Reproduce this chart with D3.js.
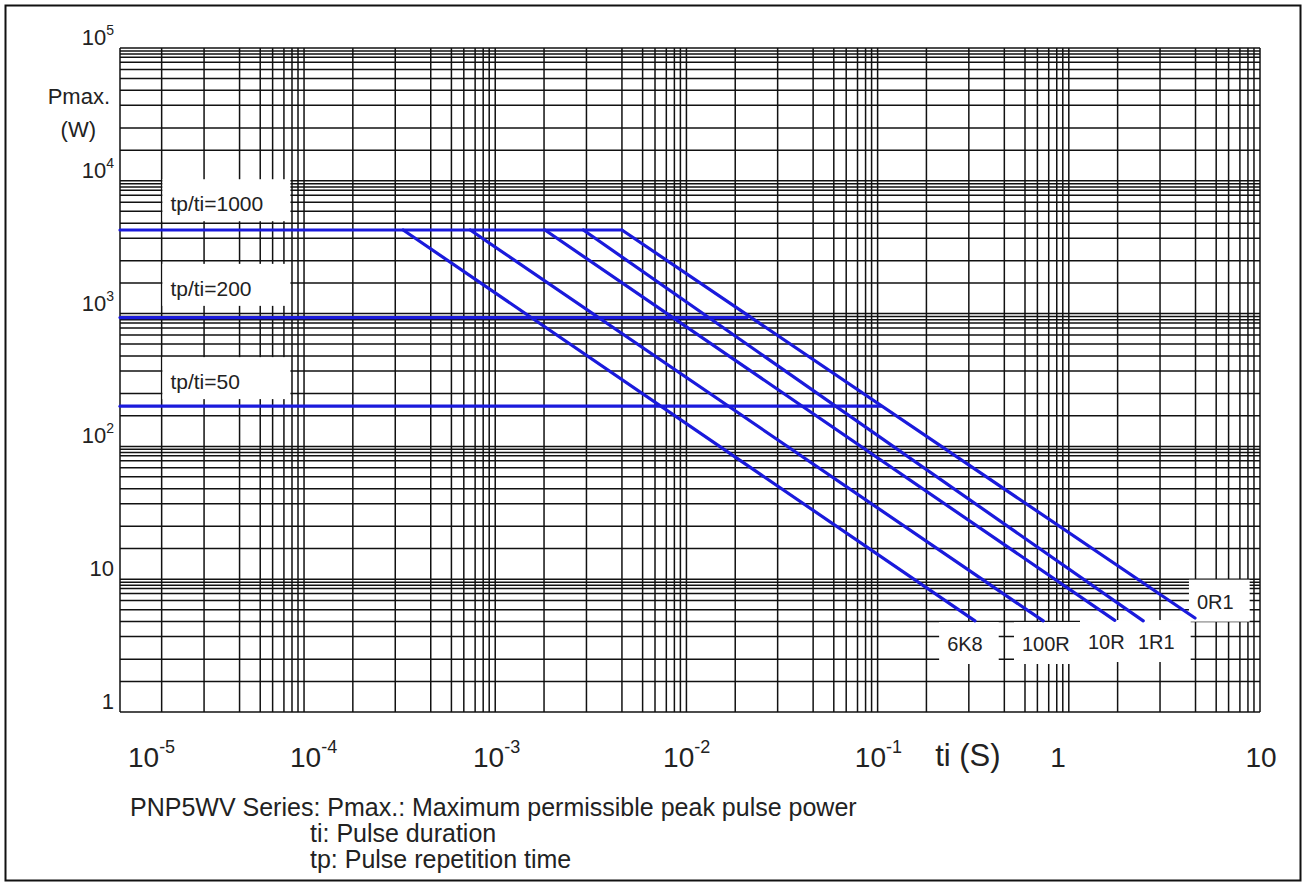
<!DOCTYPE html>
<html>
<head>
<meta charset="utf-8">
<script src="https://cdn.jsdelivr.net/npm/d3@7"></script>
<style>
  body { margin: 0; background: #fff; }
  svg text { font-family: "Liberation Sans", Arial, sans-serif; fill: #222; }
</style>
</head>
<body>
<svg id="chart" width="1306" height="886"></svg>
<script>
// ---- data ----
// grid steps inside one decade (the printed grid is not a clean 2..9 log grid)
var xMinorSteps = [1, 1.8, 3.0, 4.6, 5.9, 6.85, 7.85, 8.65, 9.3];
var yMinorSteps = [1, 1.7, 2.5, 3.7, 4.8, 5.9, 6.9, 7.8, 8.5, 9.0, 9.5];

// flat parts (tp/ti ratios)
var plateauNames = ["tp/ti=1000", "tp/ti=200", "tp/ti=50"];
var plateauPower = [4260, 934, 201];
var plateauEnd = [4.6e-3, 0.0208, 0.104];
var plateauLabelAt = [[2e-5, 5900], [2e-5, 1360], [2e-5, 270]];

// sloped parts, one per resistor value
var resistors = ["6K8", "100R", "10R", "1R1", "0R1"];
var slopeStart = [3.3e-4, 7.4e-4, 1.82e-3, 2.89e-3, 4.6e-3];
var slopeEnd = [0.323, 0.735, 1.74, 2.45, 4.57];
var slopeEndPower = [4.85, 4.85, 4.9, 4.85, 5.1];
var resistorLabelAt = [[0.231, 2.88], [0.569, 2.88], [1.26, 2.98], [2.30, 2.98], [4.68, 6.0]];

// tick labels (they sit where the original print put them)
var xTickBase = ["10", "10", "10", "10", "10", "1", "10"];
var xTickExp = ["-5", "-4", "-3", "-2", "-1", "", ""];
var xTickAt = [1.2e-5, 8.45e-5, 7.65e-4, 7.55e-3, 7.6e-2, 0.80, 8.4];
var yTickVals = [1, 10, 100, 1000, 10000, 100000];
var yTickBase = ["1", "10", "10", "10", "10", "10"];
var yTickExp = ["", "", "2", "3", "4", "5"];

var footLines = [
    "PNP5WV Series: Pmax.: Maximum permissible peak pulse power",
    "ti: Pulse duration",
    "tp: Pulse repetition time"
];

// ---- scales ----
var x = d3.scaleLog().domain([1.09e-5, 10]).range([120, 1260]);
var y = d3.scaleLog().domain([1, 1e5]).range([712, 48]);

var svg = d3.select("#chart");
svg.append("rect").attr("width", 1306).attr("height", 886).attr("fill", "#fff");

function decadeValues(steps, lo, hi) {
    var out = [];
    for (var n = -7; n <= 6; n++) {
        steps.forEach(function (k) {
            var v = +(k * Math.pow(10, n)).toPrecision(6);
            if (v >= lo * 0.9999 && v <= hi * 1.0001) out.push(v);
        });
    }
    return out;
}

var xGrid = decadeValues(xMinorSteps, x.domain()[0], x.domain()[1]);
var yGrid = decadeValues(yMinorSteps, y.domain()[0], y.domain()[1]);

var grid = svg.append("g").attr("stroke", "#111").attr("stroke-width", 1.5);

grid.selectAll("line.h")
    .data(yGrid)
    .enter().append("line")
    .attr("class", "h")
    .attr("x1", x.range()[0]).attr("x2", x.range()[1])
    .attr("y1", function (d) { return y(d); })
    .attr("y2", function (d) { return y(d); });

grid.selectAll("line.v")
    .data(xGrid.concat([x.domain()[0]]))
    .enter().append("line")
    .attr("class", "v")
    .attr("x1", function (d) { return x(d); })
    .attr("x2", function (d) { return x(d); })
    .attr("y1", y.range()[1]).attr("y2", y.range()[0]);

// white label boxes that blank out the grid
var boxes = svg.append("g");
var blue = "#1a1adc";

var lineGen = d3.line()
    .x(function (d) { return x(d[0]); })
    .y(function (d) { return y(d[1]); });

// ---- labels first measured, boxes behind them ----
var labels = svg.append("g");

function boxedLabel(txt, at, size, pad) {
    var t = labels.append("text")
        .attr("x", x(at[0]))
        .attr("y", y(at[1]))
        .attr("font-size", size)
        .text(txt);
    var b = t.node().getBBox();
    var w = pad.width ? pad.width : b.width + pad.l + pad.r;
    boxes.append("rect")
        .attr("x", b.x - pad.l)
        .attr("y", b.y - pad.t)
        .attr("width", w)
        .attr("height", b.height + pad.t + pad.b)
        .attr("fill", "#fff");
}

plateauNames.forEach(function (n, i) {
    boxedLabel(n, plateauLabelAt[i], 21, { l: 8, r: 0, t: 13, b: 6, width: 128 });
});
resistors.forEach(function (n, i) {
    boxedLabel(n, resistorLabelAt[i], 20, { l: 8, r: 16, t: 11, b: 9 });
});

// ---- curves ----
var curves = svg.append("g")
    .attr("fill", "none")
    .attr("stroke", blue)
    .attr("stroke-width", 3.2)
    .attr("stroke-linecap", "round");

plateauPower.forEach(function (p, i) {
    curves.append("path")
        .attr("d", lineGen([[x.domain()[0], p], [plateauEnd[i], p]]));
});

resistors.forEach(function (r, i) {
    curves.append("path")
        .attr("d", lineGen([[slopeStart[i], plateauPower[0]], [slopeEnd[i], slopeEndPower[i]]]));
});

labels.raise();

// ---- tick labels ----
var xt = svg.append("g");
xTickBase.forEach(function (b, i) {
    var t = xt.append("text")
        .attr("x", x(xTickAt[i]))
        .attr("y", 767)
        .attr("font-size", 28)
        .text(b);
    if (xTickExp[i]) {
        t.append("tspan").attr("font-size", 18).attr("dy", -14).text(xTickExp[i]);
    }
});
xt.append("text")
    .attr("x", x(0.2)).attr("y", 766)
    .attr("font-size", 31)
    .text("ti (S)");

var yt = svg.append("g");
yTickVals.forEach(function (v, i) {
    var t = yt.append("text")
        .attr("x", x.range()[0] - 6)
        .attr("y", y(v) - 3)
        .attr("font-size", 22)
        .attr("text-anchor", "end")
        .text(yTickBase[i]);
    if (yTickExp[i]) {
        t.append("tspan").attr("font-size", 14).attr("dy", -10).text(yTickExp[i]);
    }
});

yt.append("text").attr("x", 110).attr("y", 104).attr("font-size", 22)
    .attr("text-anchor", "end").text("Pmax.");
yt.append("text").attr("x", 96).attr("y", 137).attr("font-size", 22)
    .attr("text-anchor", "end").text("(W)");

// ---- footer ----
var foot = svg.append("g").attr("font-size", 25);
footLines.forEach(function (s, i) {
    foot.append("text")
        .attr("x", i === 0 ? 130 : 310)
        .attr("y", 816 + i * 26)
        .text(s);
});

// outer frame
svg.append("rect")
    .attr("x", 5.5).attr("y", 5.5)
    .attr("width", 1295).attr("height", 875)
    .attr("fill", "none")
    .attr("stroke", "#111")
    .attr("stroke-width", 2);
</script>
</body>
</html>
